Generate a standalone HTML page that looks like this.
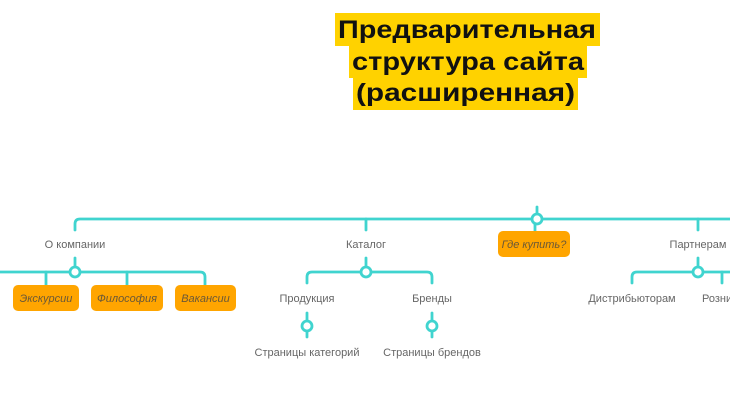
<!DOCTYPE html>
<html><head><meta charset="utf-8"><style>
html,body{margin:0;padding:0;background:#fff;}
svg{display:block;}
</style></head><body>
<svg width="730" height="420" viewBox="0 0 730 420" xmlns="http://www.w3.org/2000/svg">
<rect width="730" height="420" fill="#fff"/>
<!-- title -->
<rect x="335" y="13" width="265" height="33" fill="#ffd200"/>
<rect x="349" y="45" width="238" height="33" fill="#ffd200"/>
<rect x="353" y="77" width="225" height="33" fill="#ffd200"/>
<g font-family="Liberation Sans, sans-serif" font-weight="bold" font-size="25" fill="#111">
<text x="338" y="38" textLength="258" lengthAdjust="spacingAndGlyphs">Предварительная</text>
<text x="352" y="70" textLength="232" lengthAdjust="spacingAndGlyphs">структура сайта</text>
<text x="356" y="101" textLength="219" lengthAdjust="spacingAndGlyphs">(расширенная)</text>
</g>
<!-- connectors -->
<g fill="none" stroke="#40d4cf" stroke-width="2.8" stroke-linecap="round">
<path d="M75,230 L75,224 Q75,219 80,219 L731,219"/>
<path d="M537,207 L537,214"/>
<path d="M535,224 L535,231"/>
<path d="M366,219 L366,230"/>
<path d="M698,219 L698,230"/>
<!-- О компании -->
<path d="M75,258 L75,267"/>
<path d="M-2,272 L200,272 Q205,272 205,277 L205,285"/>
<path d="M46,272 L46,285"/>
<path d="M127,272 L127,285"/>
<!-- Каталог -->
<path d="M366,258 L366,267"/>
<path d="M307,283 L307,277 Q307,272 312,272 L427,272 Q432,272 432,277 L432,283"/>
<path d="M307,313 L307,337"/>
<path d="M432,313 L432,337"/>
<!-- Партнерам -->
<path d="M698,258 L698,267"/>
<path d="M632,283 L632,277 Q632,272 637,272 L731,272"/>
<path d="M722,272 L722,283"/>
</g>
<g fill="#fff" stroke="#40d4cf" stroke-width="2.8">
<circle cx="537" cy="219" r="5"/>
<circle cx="75" cy="272" r="5"/>
<circle cx="366" cy="272" r="5"/>
<circle cx="698" cy="272" r="5"/>
<circle cx="307" cy="326" r="5"/>
<circle cx="432" cy="326" r="5"/>
</g>
<!-- orange boxes -->
<g fill="#ffa500">
<rect x="13" y="285" width="66" height="26" rx="5"/>
<rect x="91" y="285" width="72" height="26" rx="5"/>
<rect x="175" y="285" width="61" height="26" rx="5"/>
<rect x="498" y="231" width="72" height="26" rx="5"/>
</g>
<g font-family="Liberation Sans, sans-serif" font-style="italic" font-size="11" fill="#6a5838" text-anchor="middle">
<text x="46" y="302">Экскурсии</text>
<text x="127" y="302">Философия</text>
<text x="205.5" y="302">Вакансии</text>
<text x="534" y="248">Где купить?</text>
</g>
<!-- labels -->
<g font-family="Liberation Sans, sans-serif" font-size="11" fill="#666" text-anchor="middle">
<text x="75" y="248">О компании</text>
<text x="366" y="248">Каталог</text>
<text x="698" y="248">Партнерам</text>
<text x="307" y="302">Продукция</text>
<text x="432" y="302">Бренды</text>
<text x="307" y="356">Страницы категорий</text>
<text x="432" y="356">Страницы брендов</text>
<text x="632" y="302">Дистрибьюторам</text>
<text x="702" y="302" text-anchor="start">Розничным</text>
</g>
</svg>
</body></html>
